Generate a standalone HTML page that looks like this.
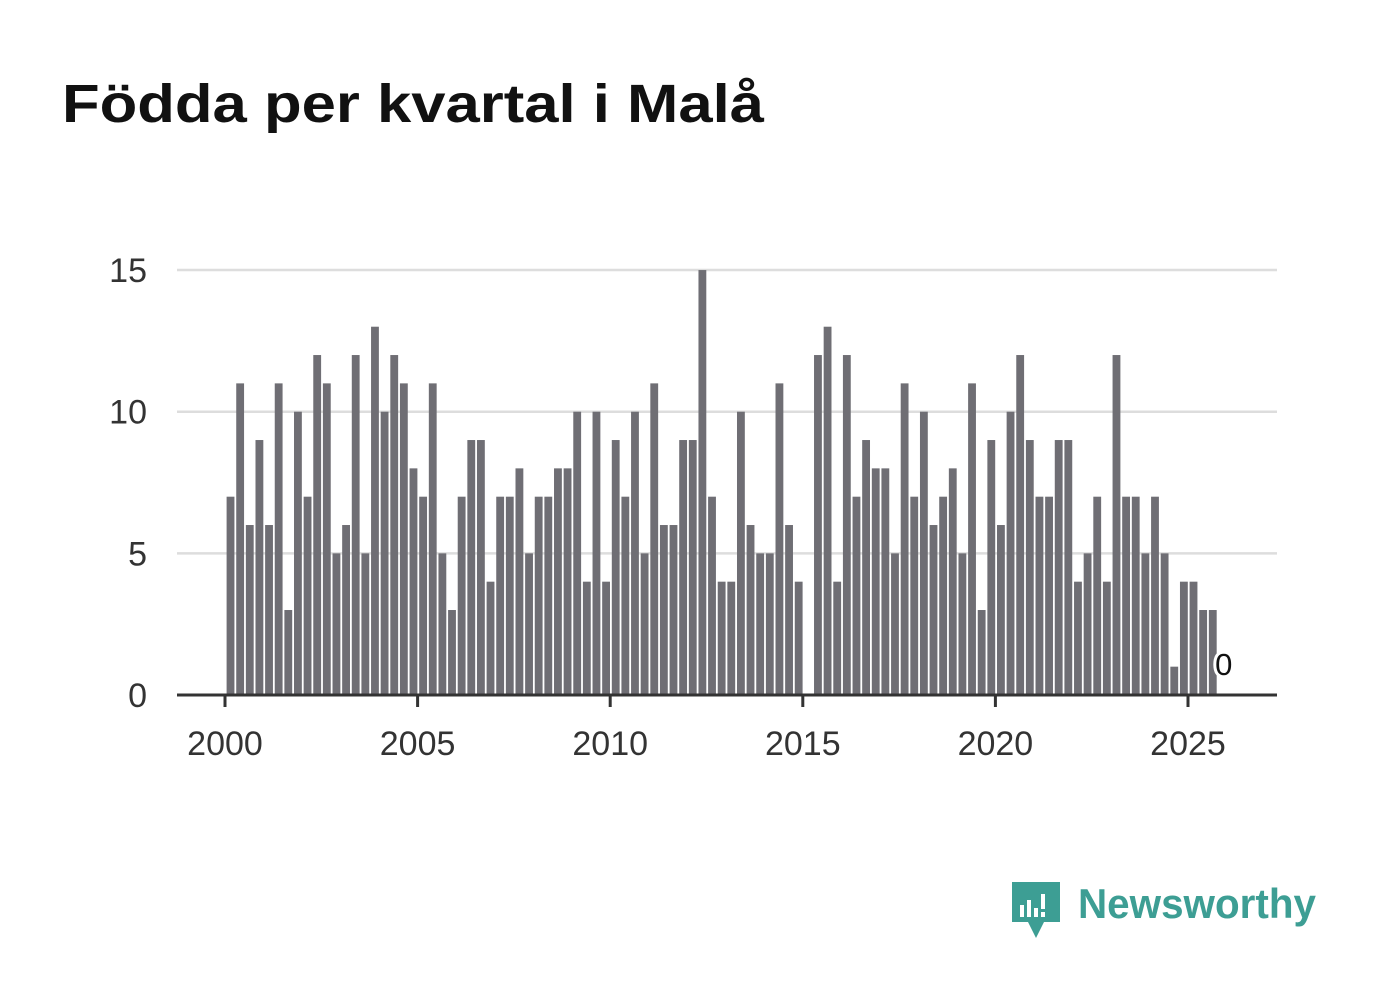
<!DOCTYPE html>
<html><head><meta charset="utf-8">
<style>
body{margin:0;background:#fff;width:1382px;height:999px;overflow:hidden;font-family:"Liberation Sans",sans-serif;}
</style></head>
<body>
<svg width="1382" height="999">
<text x="62" y="122" font-size="54" font-weight="bold" fill="#111" textLength="702" lengthAdjust="spacingAndGlyphs">Födda per kvartal i Malå</text>
<g id="grid"></g>
<g id="bars"></g>
<g id="axis"></g>
<g>
<path d="M1012 882 h48 v40 h-16 l-8 16 l-8 -16 h-16 z" fill="#3d9e94"/>
<rect x="1020" y="905" width="4" height="12" fill="#fff"/><rect x="1027" y="900" width="4" height="17" fill="#fff"/><rect x="1034" y="908" width="4" height="9" fill="#fff"/><rect x="1041" y="894" width="4" height="15" fill="#fff"/><rect x="1041" y="912" width="4" height="5" fill="#fff"/>
<text x="1078" y="918" font-size="42" font-weight="bold" fill="#3d9e94" textLength="238" lengthAdjust="spacingAndGlyphs">Newsworthy</text>
</g>
</svg>
<script>
const values=[7,11,6,9,6,11,3,10,7,12,11,5,6,12,5,13,10,12,11,8,7,11,5,3,7,9,9,4,7,7,8,5,7,7,8,8,10,4,10,4,9,7,10,5,11,6,6,9,9,15,7,4,4,10,6,5,5,11,6,4,0,12,13,4,12,7,9,8,8,5,11,7,10,6,7,8,5,11,3,9,6,10,12,9,7,7,9,9,4,5,7,4,12,7,7,5,7,5,1,4,4,3,3,0];
const yTicks=[0,5,10,15];
const xTicks=[2000,2005,2010,2015,2020,2025];
const startYear=2000;
const NS="http://www.w3.org/2000/svg";
function xs(year){return 225+(year-2000)*38.52;}
function ys(v){return 695-v*28.33;}
function mk(tag,attrs,parent){const e=document.createElementNS(NS,tag);for(const k in attrs)e.setAttribute(k,attrs[k]);parent.appendChild(e);return e;}
const grid=document.getElementById('grid'),bars=document.getElementById('bars'),axis=document.getElementById('axis');
yTicks.forEach(t=>{
 if(t>0){const l=mk('line',{x1:177,x2:1277,y1:ys(t),y2:ys(t),stroke:'#ddd','stroke-width':2.5},grid);
 
 }
 const tx=mk('text',{x:147,y:ys(t)+12,'font-size':34,fill:'#333','text-anchor':'end'},grid);
 tx.textContent=t;
 
 
});
const qw=38.52/4;
values.forEach((v,i)=>{
 const x0=xs(startYear+i/4)+1.6;
 const r=mk('rect',{x:x0,y:ys(v),width:qw-1.8,height:695-ys(v),fill:'#6f6e74'},bars);
 
 
});
const last=values.length-1;
const lb=mk('text',{x:xs(startYear+last/4)+qw/2+2,y:ys(values[last])-20,'font-size':31,fill:'#111','text-anchor':'middle',stroke:'#fff','stroke-width':6,'paint-order':'stroke'},bars);
lb.textContent=values[last];


const ax=mk('line',{x1:177,x2:1277,y1:695,y2:695,stroke:'#333','stroke-width':3},axis);


xTicks.forEach(t=>{
 const l=mk('line',{x1:xs(t),x2:xs(t),y1:695,y2:707,stroke:'#333','stroke-width':3},axis);
 
 
 const tx=mk('text',{x:xs(t),y:755,'font-size':34,fill:'#333','text-anchor':'middle'},axis);
 tx.textContent=t;
 
 
});
</script>
</body></html>
